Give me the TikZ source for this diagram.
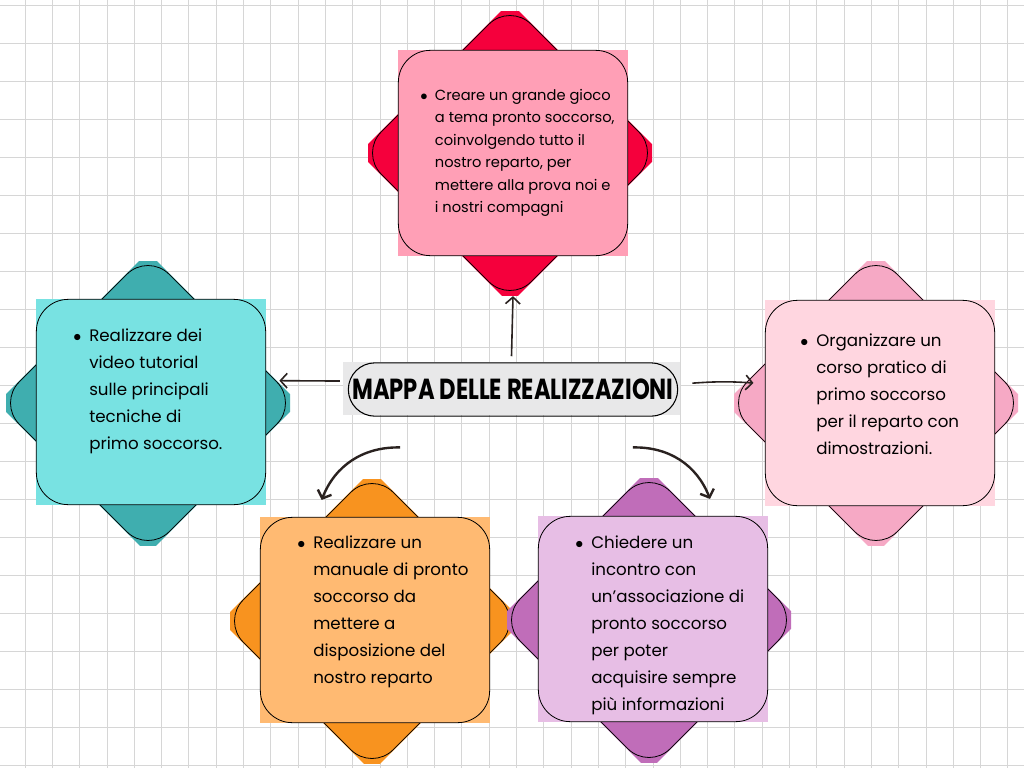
\documentclass[tikz,border=0pt]{standalone}
\usepackage{fontspec}
\setmainfont{Poppins}
\usepackage{graphicx}
\usetikzlibrary{arrows.meta}

\definecolor{redDark}{HTML}{F5003C}
\definecolor{redLight}{HTML}{FF9FB6}
\definecolor{tealDark}{HTML}{3FAEAF}
\definecolor{tealLight}{HTML}{78E2E2}
\definecolor{pinkDark}{HTML}{F6A9C5}
\definecolor{pinkLight}{HTML}{FFD6E0}
\definecolor{orangeDark}{HTML}{F8931F}
\definecolor{orangeLight}{HTML}{FFBA72}
\definecolor{purpleDark}{HTML}{C06DB9}
\definecolor{purpleLight}{HTML}{E7BEE5}
\definecolor{titleGray}{HTML}{E8E8E9}
\definecolor{inkDark}{HTML}{2A2220}

\tikzset{
  gridline/.style={black!16, line width=0.5pt},
  backfill/.style={rotate=45, minimum size=160pt, inner sep=0pt},
  backline/.style={rotate=45, minimum size=159pt, rounded corners=22.5pt, draw=black, line width=0.6pt, inner sep=0pt},
  cardfill/.style={minimum width=173pt, minimum height=154pt, inner sep=0pt},
  card/.style={minimum width=172pt, minimum height=154pt, rounded corners=24pt, draw=black, line width=0.6pt, inner sep=0pt},
  cardtext/.style={anchor=north west, inner sep=0pt, font=\fontsize{12.5pt}{20.25pt}\selectfont},
  arr/.style={-{Straight Barb[length=5pt,width=11pt]}, line width=1.2pt, draw=inkDark},
  curvearr/.style={arr, line width=1.8pt},
}

\begin{document}
\begin{tikzpicture}[x=0.75pt, y=-0.75pt]
  \useasboundingbox (0,0) rectangle (1024,768);
  \fill[white] (0,0) rectangle (1024,768);

  % graph paper
  \foreach \gx in {25,52.3,...,1024}
    \draw[gridline] (\gx,0) -- (\gx,768);
  \foreach \gy in {5,43,...,768}
    \draw[gridline] (0,\gy) -- (1024,\gy);

  % tilted squares behind the cards
  \foreach \cx/\cy/\col in {510/153/redDark, 148/403/tealDark, 876/403/pinkDark, 372/621/orangeDark, 649/620/purpleDark} {
    \begin{scope}
      \clip (\cx-142,\cy-142) rectangle (\cx+142,\cy+142);
      \node[backfill, fill=\col] at (\cx,\cy) {};
    \end{scope}
    \node[backline, fill=\col] at (\cx,\cy) {};
  }

  % cards
  \node[cardfill, fill=redLight] at (513,153) {};
  \node[card, fill=redLight] (gioco) at (513,153) {};
  \node[cardfill, fill=tealLight] at (151,402) {};
  \node[card, fill=tealLight] (video) at (151,402) {};
  \node[cardfill, fill=pinkLight] at (880,403) {};
  \node[card, fill=pinkLight] (corso) at (880,403) {};
  \node[cardfill, fill=orangeLight] at (375,620) {};
  \node[card, fill=orangeLight] (manuale) at (375,620) {};
  \node[cardfill, fill=purpleLight] at (653,619) {};
  \node[card, fill=purpleLight] (incontro) at (653,619) {};

  % card texts
  \node[cardtext, font=\fontsize{11pt}{16.9pt}\selectfont] (gioco-text) at (420,84) {%
    \begin{tabular}{@{}l@{}l@{}}
      \makebox[11pt][l]{$\bullet$} & Creare un grande gioco\\
      & a tema pronto soccorso,\\
      & coinvolgendo tutto il\\
      & nostro reparto, per\\
      & mettere alla prova noi e\\
      & i nostri compagni
    \end{tabular}};
  \node[cardtext] (video-text) at (73,322) {%
    \begin{tabular}{@{}l@{}l@{}}
      \makebox[12pt][l]{$\bullet$} & Realizzare dei\\
      & video tutorial\\
      & sulle principali\\
      & tecniche di\\
      & primo soccorso.
    \end{tabular}};
  \node[cardtext] (corso-text) at (800,327) {%
    \begin{tabular}{@{}l@{}l@{}}
      \makebox[12pt][l]{$\bullet$} & Organizzare un\\
      & corso pratico di\\
      & primo soccorso\\
      & per il reparto con\\
      & dimostrazioni.
    \end{tabular}};
  \node[cardtext] (manuale-text) at (297,529) {%
    \begin{tabular}{@{}l@{}l@{}}
      \makebox[12pt][l]{$\bullet$} & Realizzare un\\
      & manuale di pronto\\
      & soccorso da\\
      & mettere a\\
      & disposizione del\\
      & nostro reparto
    \end{tabular}};
  \node[cardtext] (incontro-text) at (575,529) {%
    \begin{tabular}{@{}l@{}l@{}}
      \makebox[12pt][l]{$\bullet$} & Chiedere un\\
      & incontro con\\
      & un’associazione di\\
      & pronto soccorso\\
      & per poter\\
      & acquisire sempre\\
      & più informazioni
    \end{tabular}};

  % central title
  \node[fill=titleGray, minimum width=253pt, minimum height=40pt, inner sep=0pt] (title) at (511.5,388.5) {};
  \node[draw=black, line width=0.8pt, rounded corners=20pt, minimum width=247pt, minimum height=40pt, inner sep=0pt]
    (title-pill) at (513,389.5) {\resizebox{241pt}{15.5pt}{\bfseries MAPPA DELLE REALIZZAZIONI}};

  % arrows
  \draw[arr] ([yshift=4pt]title.north) -- ([yshift=-30pt]gioco.south);
  \draw[arr] ([shift={(-2pt,5.6pt)}]title.west) -- ([shift={(10pt,16pt)}]video.east);
  \draw[arr] ([shift={(9pt,4pt)}]title.east) to[bend left=4] ([shift={(-8.6pt,15pt)}]corso.west);
  \draw[curvearr] ([shift={(-83.6pt,-24pt)}]title.south) to[bend right=35] ([shift={(-40pt,12.75pt)}]manuale.north);
  \draw[curvearr] ([shift={(91pt,-24pt)}]title.south) to[bend left=35] ([shift={(42.75pt,12.75pt)}]incontro.north);
\end{tikzpicture}
\end{document}
